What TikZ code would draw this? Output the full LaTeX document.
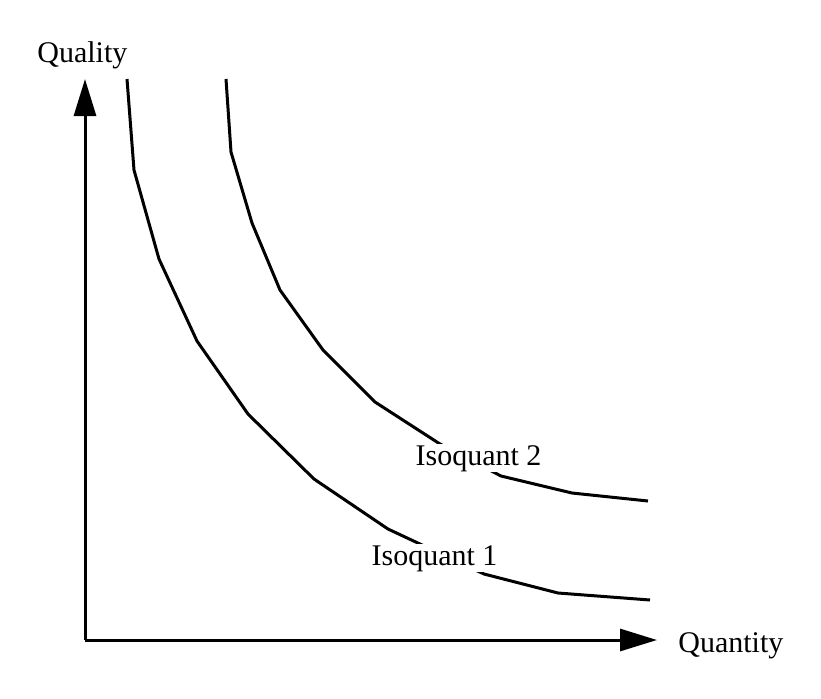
\documentclass[tikz,border=0pt]{standalone}
\usepackage{fontspec}
\setmainfont{Liberation Serif}
\usetikzlibrary{arrows.meta}

\begin{document}
\begin{tikzpicture}[x=0.5pt,y=-0.5pt,
    axis/.style={line width=1.5pt,-{Triangle[length=18.5pt,width=11pt]}},
    curve/.style={line width=1.5pt,line join=round},
    axislabel/.style={font=\fontsize{15}{18}\selectfont,inner sep=0pt,anchor=base west},
    curvelabel/.style={font=\fontsize{15}{18}\selectfont,fill=white,inner sep=0.5pt,anchor=base}]
                \useasboundingbox (0,0) rectangle (821,698);
                \coordinate (O) at (85,640);
                \coordinate (Y) at (85,79);
                \coordinate (X) at (657,640);
                \draw[axis] (O) -- (Y);
                \draw[axis] (O) -- (X);
                \draw[curve] (127,79) -- (134,170) -- (159,259) -- (197,341) -- (248,414)
                    -- (314,479) -- (388,529) -- (484,574) -- (558,593) -- (650,600);
                \draw[curve] (226,79) -- (231,152) -- (252,223) -- (280,290) -- (323,350)
                    -- (375,402) -- (440,444) -- (501,476) -- (572,493) -- (648,501);
                \node[curvelabel] (iso1) at (434.5,565) {Isoquant 1};
                \node[curvelabel] (iso2) at (478.5,465) {Isoquant 2};
                \node[axislabel] (quality) at (37,62) {Quality};
                \node[axislabel] (quantity) at (678,652) {Quantity};
            \end{tikzpicture}
\end{document}
